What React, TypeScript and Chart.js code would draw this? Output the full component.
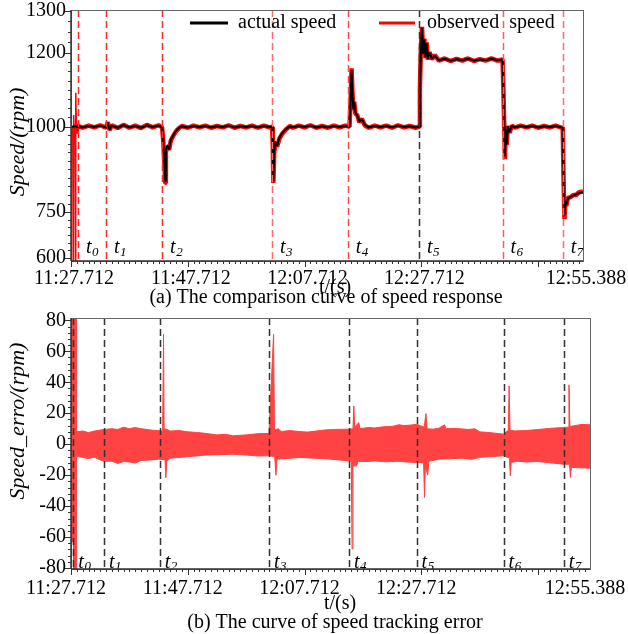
import React, { useEffect, useRef } from 'react';
import { Chart, registerables, LinearScale } from 'chart.js';

Chart.register(...registerables);

const SERIF = "'Liberation Serif', 'Times New Roman', Times, serif";

// ---------- time axis (seconds after 11:27.712) ----------
const timeTickSeconds = [0, 20, 40, 60, 80];
const timeTickLabels = ['11:27.712', '11:47.712', '12:07.712', '12:27.712', ''];
const timeEndLabel = '12:55.388';
const topTimeSpan = 87.676;
const bottomTimeSpan = 88.9;

// ---------- (a) speed response ----------
const speedTicks = [600, 750, 1000, 1200, 1300];
// the original speed axis is not linear: value -> fraction of plot height
const speedAxisValues = [590, 600, 750, 1000, 1200, 1300];
const speedAxisFractions = [0, 0.013, 0.195, 0.535, 0.829, 0.996];

const topMarkerTimes = [1.2, 6.0, 15.6, 34.4, 47.4, 59.6, 73.9, 84.2];
const topMarkerColors = ['#ff2a2a', '#ff2a2a', '#ff2a2a', '#ff6a6a', '#ff4a4a', '#333333', '#ff5a5a', '#ff6a6a'];
const markerSubscripts = ['0', '1', '2', '3', '4', '5', '6', '7'];

const actualSpeed: [number, number][] = [
  [0, 1000], [1, 1001], [2, 998], [3, 1002], [4, 999], [5, 1003], [6, 998], [6.3, 1010], [6.6, 992],
  [7, 1003], [8, 997], [9, 1004], [10, 998], [11, 1002], [12, 997], [13, 1004], [14, 999], [15, 1003],
  [15.6, 998], [15.8, 960], [16.0, 900], [16.15, 842], [16.25, 930], [16.5, 945], [16.8, 935], [17.1, 962],
  [17.5, 975], [18.0, 988], [18.5, 997], [19, 1001], [20, 998], [21, 1002], [22, 999], [23, 1002], [24, 998],
  [25, 1001], [26, 999], [27, 1003], [28, 998], [29, 1001], [30, 999], [31, 1002], [32, 998], [33, 1002],
  [34, 999], [34.45, 1000], [34.55, 950], [34.65, 842], [34.8, 930], [35.0, 955], [35.3, 945], [35.7, 968],
  [36.2, 982], [36.8, 993], [37.5, 1001], [38, 998], [39, 1002], [40, 999], [41, 1003], [42, 998], [43, 1001],
  [44, 998], [45, 1002], [46, 999], [47, 1002], [47.7, 1000], [47.9, 1080], [48.05, 1152], [48.2, 1090],
  [48.35, 1050], [48.5, 1065], [48.7, 1040], [49.0, 1030], [49.4, 1015], [49.8, 1020], [50.3, 1005],
  [51, 998], [52, 1002], [53, 999], [54, 1002], [55, 998], [56, 1003], [57, 999], [58, 1001], [59, 998],
  [59.6, 1000], [59.75, 1100], [59.9, 1200], [60.1, 1258], [60.3, 1200], [60.5, 1230], [60.7, 1190],
  [60.9, 1222], [61.1, 1185], [61.4, 1200], [61.8, 1185], [62.3, 1192], [63, 1180], [64, 1184], [65, 1179],
  [66, 1183], [67, 1180], [68, 1184], [69, 1179], [70, 1182], [71, 1180], [72, 1184], [73, 1180],
  [73.9, 1182], [74.05, 1100], [74.2, 1000], [74.3, 915], [74.45, 990], [74.6, 950], [74.8, 1000],
  [75.1, 985], [75.5, 1002], [76, 998], [77, 1002], [78, 999], [79, 1002], [80, 998], [81, 1001], [82, 999],
  [83, 1002], [84, 998], [84.2, 998], [84.35, 850], [84.5, 742], [84.65, 780], [84.8, 772], [85.1, 790],
  [85.5, 795], [86, 798], [86.5, 802], [87, 806], [87.676, 808],
];

const observedSpeed: [number, number][] = [
  [0, 1000], [0.3, 1000], [0.38, 560], [0.45, 1032], [0.55, 985], [0.7, 1005], [0.78, 560], [0.85, 1092],
  [0.95, 980], [1.1, 1003], [2, 997], [3, 1003], [4, 998], [5, 1004], [6, 997], [6.3, 1012], [6.6, 990],
  [7, 1004], [8, 996], [9, 1005], [10, 997], [11, 1003], [12, 996], [13, 1005], [14, 998], [15, 1004],
  [15.6, 998], [15.8, 958], [16.0, 895], [16.15, 835], [16.25, 925], [16.5, 942], [16.8, 932], [17.1, 960],
  [17.5, 973], [18.0, 987], [18.5, 996], [19, 1002], [20, 997], [21, 1003], [22, 998], [23, 1003], [24, 997],
  [25, 1002], [26, 998], [27, 1004], [28, 997], [29, 1002], [30, 998], [31, 1003], [32, 997], [33, 1003],
  [34, 998], [34.45, 1000], [34.55, 948], [34.65, 835], [34.8, 925], [35.0, 952], [35.3, 942], [35.7, 966],
  [36.2, 980], [36.8, 992], [37.5, 1002], [38, 997], [39, 1003], [40, 998], [41, 1004], [42, 997], [43, 1002],
  [44, 997], [45, 1003], [46, 998], [47, 1003], [47.7, 1000], [47.9, 1082], [48.05, 1158], [48.2, 1088],
  [48.35, 1046], [48.5, 1068], [48.7, 1036], [49.0, 1032], [49.4, 1012], [49.8, 1022], [50.3, 1004],
  [51, 997], [52, 1003], [53, 998], [54, 1003], [55, 997], [56, 1004], [57, 998], [58, 1002], [59, 997],
  [59.6, 1000], [59.75, 1102], [59.9, 1205], [60.1, 1262], [60.3, 1196], [60.5, 1234], [60.7, 1186],
  [60.9, 1225], [61.1, 1182], [61.4, 1202], [61.8, 1183], [62.3, 1194], [63, 1179], [64, 1185], [65, 1178],
  [66, 1184], [67, 1179], [68, 1185], [69, 1178], [70, 1183], [71, 1179], [72, 1185], [73, 1179],
  [73.9, 1182], [74.05, 1098], [74.2, 995], [74.3, 905], [74.45, 992], [74.6, 946], [74.8, 1002],
  [75.1, 982], [75.5, 1003], [76, 997], [77, 1003], [78, 998], [79, 1003], [80, 997], [81, 1002], [82, 998],
  [83, 1003], [84, 997], [84.2, 998], [84.35, 845], [84.5, 727], [84.65, 782], [84.8, 768], [85.1, 792],
  [85.5, 793], [86, 800], [86.5, 800], [87, 808], [87.676, 810],
];

// ---------- (b) speed tracking error (envelope of the error band) ----------
const errorTicks = [-80, -60, -40, -20, 0, 20, 40, 60, 80];
const bottomMarkerTimes = [0.4, 5.65, 15.2, 33.9, 47.6, 59.2, 74.1, 84.4];

const errorUpper: [number, number][] = [
  [0, 95], [0.9, 95], [0.95, 8], [2, 8.5], [3, 7.5], [4, 8.5], [5.6, 9.5], [7, 10], [8, 9.5], [9, 11],
  [10, 10], [11, 10.8], [12, 10], [13, 9.5], [14, 9], [15.7, 8.6], [15.85, 71], [15.95, 10], [16.5, 9.5],
  [17, 8.5], [18.5, 8.8], [20, 8], [21.5, 7.6], [23, 7], [25, 6], [26.5, 6.4], [27.7, 5.4], [30, 6],
  [32, 6.8], [33.9, 6.9], [34.7, 71], [34.85, 9], [35.5, 10], [36, 8.2], [37.5, 8.8], [39, 8.2], [40.5, 7.8],
  [42, 8.5], [43.5, 9.2], [45, 9.5], [47.6, 9.7], [48.3, 10], [48.45, 24.7], [48.6, 11], [49.3, 14],
  [49.5, 10], [51, 10.8], [52, 10.5], [53.5, 11.2], [55, 11.5], [56.2, 12.6], [57, 12], [58.3, 12.4],
  [59.2, 12.9], [60.5, 11], [60.8, 19.8], [61.0, 10], [62, 9.7], [63, 10.3], [64, 12.5], [64.2, 10],
  [66, 10.2], [68, 9.5], [69.2, 9.9], [70, 8], [72, 7.4], [74.1, 6.5], [74.9, 9], [75.05, 37.6], [75.2, 9],
  [76, 8.6], [78, 8.8], [80, 9.5], [82, 10.2], [84.3, 10.8], [85.15, 11], [85.3, 38.3], [85.45, 11.5],
  [86, 11.8], [87.5, 12.8], [88.9, 12.5],
];

const errorLower: [number, number][] = [
  [0, -63], [0.4, -63], [0.45, -95], [0.9, -95], [0.95, -8], [2, -8.5], [3, -9.2], [4, -8.5], [5.6, -11],
  [7, -11], [8, -12.5], [9, -11.2], [10, -11.5], [11, -12.2], [12, -10.5], [13.5, -10.2], [15, -9.7],
  [16.1, -10], [16.25, -21.7], [16.4, -11], [17, -9], [18.5, -8.6], [20, -8], [21.5, -7.6], [23, -7],
  [25, -6.8], [27.7, -6.5], [30, -7], [32, -7.6], [33.9, -7.5], [34.9, -8], [35.1, -20], [35.3, -9.7],
  [37, -9.2], [39, -8.6], [41.5, -9], [44, -9.5], [46, -10.2], [47.6, -10.8], [48.0, -11], [48.15, -67.7],
  [48.3, -14], [48.9, -14], [49.2, -11], [50.5, -11.2], [52, -10.8], [54, -11.4], [56, -11], [57.8, -11.6],
  [59.2, -11.8], [60.4, -12], [60.55, -34.4], [60.7, -14], [61.1, -20], [61.3, -11], [63, -9.7], [65, -9.4],
  [67, -9], [68.6, -9.8], [70, -8.5], [72, -8], [74.1, -7.5], [75.1, -9], [75.25, -20.4], [75.4, -11.8],
  [76.5, -11], [78, -11.5], [80, -11.2], [82, -12], [84.3, -12.9], [85.4, -13], [85.55, -21.5], [85.7, -15],
  [87.2, -15.2], [88.9, -15.5],
];

// ---------- custom non-linear scale for the speed axis ----------
function speedToFraction(v: number): number {
  const V = speedAxisValues, F = speedAxisFractions;
  let i = 0;
  while (i < V.length - 2 && v > V[i + 1]) i++;
  return F[i] + ((v - V[i]) * (F[i + 1] - F[i])) / (V[i + 1] - V[i]);
}
function fractionToSpeed(f: number): number {
  const V = speedAxisValues, F = speedAxisFractions;
  let i = 0;
  while (i < F.length - 2 && f > F[i + 1]) i++;
  return V[i] + ((f - F[i]) * (V[i + 1] - V[i])) / (F[i + 1] - F[i]);
}

class SpeedScale extends LinearScale {
  static id = 'speedscale';
  static defaults = {};
  getPixelForValue(value: any) {
    if (value === null || value === undefined || isNaN(value)) return NaN;
    return (this as any).getPixelForDecimal(speedToFraction(+value));
  }
  getValueForPixel(pixel: number) {
    return fractionToSpeed((this as any).getDecimalForPixel(pixel));
  }
}
Chart.register(SpeedScale as any);

// ---------- decoration plugin ----------
type Decor = {
  markers: number[];
  markerColors: string[];
  tDx: number;
  tRaise: number;
  subRaise: number;
  yMajor: number[];
  yMinor: number[];
  yTitle: string;
  yTitleX: number;
  yTitleY: number;
  xTitleX: number;
  xTitleY: number;
  caption: string;
  captionX: number;
  captionY: number;
  legend: boolean;
};

function line(ctx: CanvasRenderingContext2D, x1: number, y1: number, x2: number, y2: number) {
  ctx.beginPath();
  ctx.moveTo(x1, y1);
  ctx.lineTo(x2, y2);
  ctx.stroke();
}

function makeDecor(d: Decor) {
  return {
    id: 'decor',
    afterDatasetsDraw(chart: any) {
      const { ctx, chartArea: a, scales } = chart;
      const xs = scales.x;
      ctx.save();
      ctx.lineWidth = 1.5;
      ctx.setLineDash([7, 4]);
      d.markers.forEach((t, i) => {
        const px = Math.round(xs.getPixelForValue(t)) + 0.5;
        ctx.strokeStyle = d.markerColors[i];
        line(ctx, px, a.top, px, a.bottom);
      });
      ctx.setLineDash([]);
      ctx.fillStyle = '#000';
      ctx.textAlign = 'left';
      ctx.textBaseline = 'alphabetic';
      d.markers.forEach((t, i) => {
        const px = xs.getPixelForValue(t) + d.tDx;
        ctx.font = `italic 20px ${SERIF}`;
        ctx.fillText('t', px, a.bottom - d.tRaise);
        const w = ctx.measureText('t').width;
        ctx.font = `italic 13px ${SERIF}`;
        ctx.fillText(markerSubscripts[i], px + w + 0.5, a.bottom - d.subRaise);
      });
      ctx.restore();
    },
    afterDraw(chart: any) {
      const { ctx, chartArea: a, scales } = chart;
      const xs = scales.x;
      const ys = scales.y;
      ctx.save();
      // frame
      ctx.strokeStyle = '#666';
      ctx.lineWidth = 1;
      ctx.strokeRect(Math.round(a.left) + 0.5, Math.round(a.top) + 0.5, Math.round(a.right - a.left), Math.round(a.bottom - a.top));
      ctx.strokeStyle = '#333';
      ctx.lineWidth = 1.5;
      line(ctx, a.left, a.top, a.left, a.bottom);
      line(ctx, a.left, a.bottom, a.right, a.bottom);
      // x ticks
      ctx.lineWidth = 1;
      ctx.strokeStyle = '#333';
      for (let s = 0; s <= xs.max + 1e-6; s += 1) {
        const px = Math.round(xs.getPixelForValue(s)) + 0.5;
        const len = s % 20 === 0 ? 6 : 3;
        line(ctx, px, a.bottom, px, a.bottom + len);
      }
      // y ticks
      d.yMinor.forEach((v) => {
        const py = Math.round(ys.getPixelForValue(v)) + 0.5;
        line(ctx, a.left - 3, py, a.left, py);
      });
      d.yMajor.forEach((v) => {
        const py = Math.round(ys.getPixelForValue(v)) + 0.5;
        line(ctx, a.left - 6, py, a.left, py);
      });
      // titles
      ctx.fillStyle = '#000';
      ctx.textAlign = 'center';
      ctx.textBaseline = 'middle';
      ctx.save();
      ctx.translate(d.yTitleX, d.yTitleY);
      ctx.rotate(-Math.PI / 2);
      ctx.font = `italic 22px ${SERIF}`;
      ctx.fillText(d.yTitle, 0, 0);
      ctx.restore();
      ctx.font = `20px ${SERIF}`;
      ctx.fillText('t/(s)', d.xTitleX, d.xTitleY);
      ctx.fillText(d.caption, d.captionX, d.captionY);
      // legend
      if (d.legend) {
        ctx.lineWidth = 3;
        ctx.strokeStyle = '#000';
        line(ctx, 190, 23, 228, 23);
        ctx.strokeStyle = '#ff0000';
        line(ctx, 379, 23, 415, 23);
        ctx.textAlign = 'left';
        ctx.font = `20px ${SERIF}`;
        ctx.fillText('actual speed', 238, 23);
        ctx.fillText('observed  speed', 427, 23);
      }
      ctx.restore();
    },
  };
}

function timeScale(max: number, height: number, labelOffset: number, padding: number) {
  return {
    type: 'linear',
    min: 0,
    max,
    afterBuildTicks: (s: any) => {
      s.ticks = [...timeTickSeconds.map((v) => ({ value: v })), { value: max }];
    },
    ticks: {
      autoSkip: false,
      maxRotation: 0,
      minRotation: 0,
      padding,
      labelOffset,
      color: '#000',
      font: { family: SERIF, size: 20 },
      callback: (_v: any, i: number) => (i < timeTickLabels.length ? timeTickLabels[i] : timeEndLabel),
    },
    grid: { display: false, drawTicks: false },
    border: { display: false },
    afterFit: (s: any) => {
      s.height = height;
      s.paddingLeft = 0;
      s.paddingRight = 0;
    },
  };
}

function topConfig(): any {
  const minorY: number[] = [];
  for (let v = 600; v <= 1300; v += 25) minorY.push(v);
  return {
    type: 'line',
    data: {
      datasets: [
        {
          label: 'actual speed',
          data: actualSpeed.map(([x, y]) => ({ x, y })),
          borderColor: '#000',
          borderWidth: 2,
          borderJoinStyle: 'round',
          pointRadius: 0,
          tension: 0,
          clip: 0,
        },
        {
          label: 'observed speed',
          data: observedSpeed.map(([x, y]) => ({ x, y })),
          borderColor: '#ff0000',
          borderWidth: 4.5,
          borderJoinStyle: 'bevel',
          pointRadius: 0,
          tension: 0,
          clip: 0,
          segment: {
            borderWidth: (c: any) => (c.p1.parsed.x < 1.05 ? 1.5 : undefined),
          },
        },
      ],
    },
    plugins: [
      makeDecor({
        markers: topMarkerTimes,
        markerColors: topMarkerColors,
        tDx: 8,
        tRaise: 8,
        subRaise: 5,
        yMajor: speedTicks,
        yMinor: minorY,
        yTitle: 'Speed/(rpm)',
        yTitleX: 18,
        yTitleY: 142,
        xTitleX: 335,
        xTitleY: 288,
        caption: '(a) The comparison curve of speed response',
        captionX: 326,
        captionY: 298,
        legend: true,
      }),
    ],
    options: {
      responsive: false,
      animation: false,
      devicePixelRatio: 1,
      layout: { padding: { top: 10, right: 45, left: 0, bottom: 0 } },
      plugins: { legend: { display: false }, tooltip: { enabled: false } },
      scales: {
        x: timeScale(topTimeSpan, 49, 3, 6),
        y: {
          type: 'speedscale',
          min: 590,
          max: 1302,
          afterBuildTicks: (s: any) => {
            s.ticks = speedTicks.map((v) => ({ value: v }));
          },
          ticks: { padding: 5, color: '#000', font: { family: SERIF, size: 20 }, callback: (v: any) => String(v) },
          grid: { display: false, drawTicks: false },
          border: { display: false },
          afterFit: (s: any) => {
            s.width = 71;
            s.paddingTop = 0;
            s.paddingBottom = 0;
          },
        },
      },
    },
  };
}

function bottomConfig(): any {
  const minorY: number[] = [];
  for (let v = -80; v <= 80; v += 4) minorY.push(v);
  const red = 'rgb(255,66,66)';
  return {
    type: 'line',
    data: {
      datasets: [
        {
          label: 'error upper',
          data: errorUpper.map(([x, y]) => ({ x, y })),
          borderColor: red,
          backgroundColor: red,
          borderWidth: 1,
          pointRadius: 0,
          tension: 0,
          fill: '+1',
          clip: 0,
        },
        {
          label: 'error lower',
          data: errorLower.map(([x, y]) => ({ x, y })),
          borderColor: red,
          backgroundColor: red,
          borderWidth: 1,
          pointRadius: 0,
          tension: 0,
          fill: false,
          clip: 0,
        },
      ],
    },
    plugins: [
      makeDecor({
        markers: bottomMarkerTimes,
        markerColors: bottomMarkerTimes.map(() => '#333333'),
        tDx: 5,
        tRaise: 1.5,
        subRaise: -0.5,
        yMajor: errorTicks,
        yMinor: minorY,
        yTitle: 'Speed_erro/(rpm)',
        yTitleX: 18,
        yTitleY: 121,
        xTitleX: 340,
        xTitleY: 304,
        caption: '(b) The curve of speed tracking error',
        captionX: 335,
        captionY: 323,
        legend: false,
      }),
    ],
    options: {
      responsive: false,
      animation: false,
      devicePixelRatio: 1,
      layout: { padding: { top: 18, right: 38, left: 0, bottom: 0 } },
      plugins: { legend: { display: false }, tooltip: { enabled: false }, filler: { propagate: false } },
      scales: {
        x: timeScale(bottomTimeSpan, 65, -5, 8),
        y: {
          type: 'linear',
          min: -80.6,
          max: 81.5,
          afterBuildTicks: (s: any) => {
            s.ticks = errorTicks.map((v) => ({ value: v }));
          },
          ticks: { padding: 5, color: '#000', font: { family: SERIF, size: 20 }, callback: (v: any) => String(v) },
          grid: { display: false, drawTicks: false },
          border: { display: false },
          afterFit: (s: any) => {
            s.width = 71;
            s.paddingTop = 0;
            s.paddingBottom = 0;
          },
        },
      },
    },
  };
}

export default function App() {
  const topRef = useRef<HTMLCanvasElement>(null);
  const botRef = useRef<HTMLCanvasElement>(null);
  useEffect(() => {
    const c1 = new Chart(topRef.current as HTMLCanvasElement, topConfig());
    const c2 = new Chart(botRef.current as HTMLCanvasElement, bottomConfig());
    return () => {
      c1.destroy();
      c2.destroy();
    };
  }, []);
  return (
    <div style={{ position: 'absolute', left: 0, top: 0, width: 628, height: 634, background: '#fff' }}>
      <canvas
        ref={topRef}
        width={628}
        height={310}
        style={{ position: 'absolute', left: 0, top: 0, width: 628, height: 310 }}
      />
      <canvas
        ref={botRef}
        width={628}
        height={334}
        style={{ position: 'absolute', left: 0, top: 300, width: 628, height: 334 }}
      />
    </div>
  );
}
